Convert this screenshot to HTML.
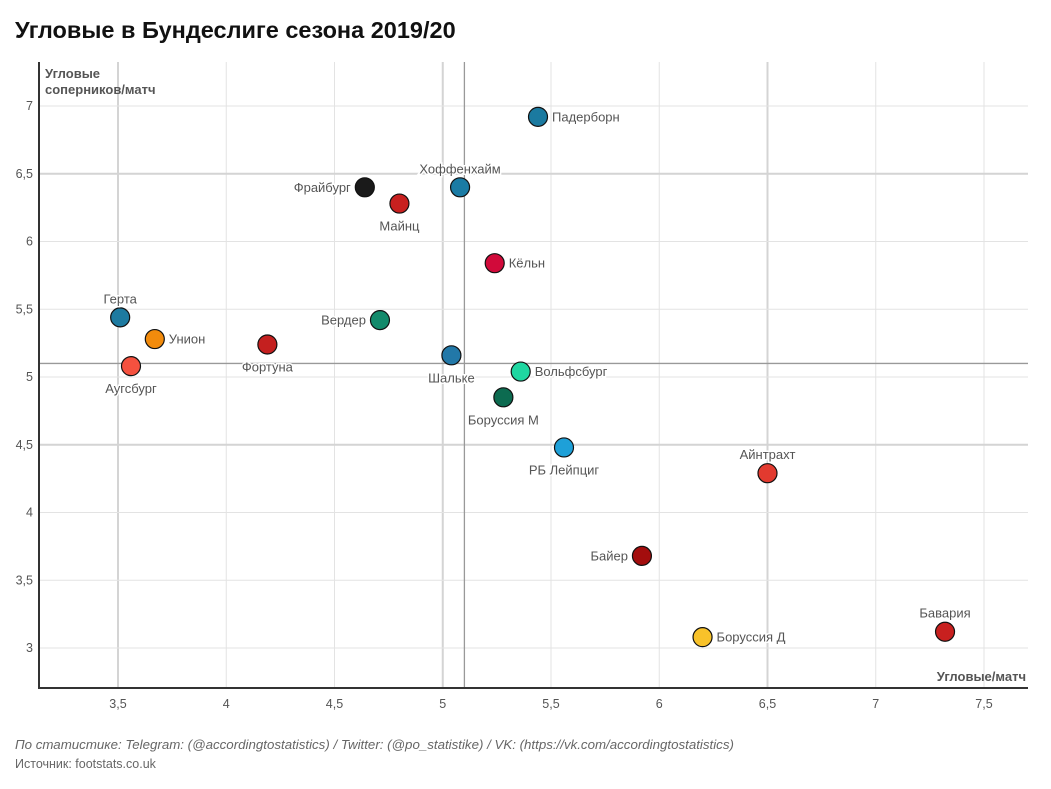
<!DOCTYPE html>
<html><head><meta charset="utf-8"><style>
body{margin:0;background:#fff;width:1051px;height:784px;overflow:hidden;font-family:"Liberation Sans",sans-serif}
svg text{font-family:"Liberation Sans",sans-serif}
</style></head><body>
<svg id="chart" width="1051" height="784" xmlns="http://www.w3.org/2000/svg">
<text x="15" y="38" font-size="23.5" font-weight="bold" fill="#111">Угловые в Бундеслиге сезона 2019/20</text>
<g id="grid"></g><g id="pts"></g>
<text x="45" y="78" font-size="13" font-weight="bold" fill="#555">Угловые</text>
<text x="45" y="94" font-size="13" font-weight="bold" fill="#555">соперников/матч</text>
<text x="1026" y="681" font-size="13" font-weight="bold" fill="#555" text-anchor="end">Угловые/матч</text>
<text x="15" y="749" font-size="13.3" font-style="italic" fill="#666">По статистике: Telegram: (@accordingtostatistics) / Twitter: (@po_statistike) / VK: (https://vk.com/accordingtostatistics)</text>
<text x="15" y="768" font-size="12.5" fill="#666">Источник: footstats.co.uk</text>
</svg>
<script>
const teams=["Падерборн","Хоффенхайм","Фрайбург","Майнц","Кёльн","Герта","Унион","Аугсбург","Фортуна","Вердер","Шальке","Вольфсбург","Боруссия М","РБ Лейпциг","Айнтрахт","Байер","Боруссия Д","Бавария"];
const cornersFor=[5.44,5.08,4.64,4.80,5.24,3.51,3.67,3.56,4.19,4.71,5.04,5.36,5.28,5.56,6.50,5.92,6.20,7.32];
const cornersAgainst=[6.92,6.40,6.40,6.28,5.84,5.44,5.28,5.08,5.24,5.42,5.16,5.04,4.85,4.48,4.29,3.68,3.08,3.12];
const colors=["#1b7aa0","#1a7ba4","#1a1a1a","#c8201f","#d10a3a","#1d7aa0","#f28b0c","#f5513f","#c4201f","#138a6b","#2278a8","#1fd6a1","#0c6b50","#1ea0d8","#e23a2f","#a30d0d","#f8c22a","#c8201f"];
const labelPos=["r","t","l","b","r","t","r","b","b","l","b","r","b","b","t","l","r","t"];
const xTicks=[3.5,4,4.5,5,5.5,6,6.5,7,7.5];
const xTickLabels=["3,5","4","4,5","5","5,5","6","6,5","7","7,5"];
const yTicks=[3,3.5,4,4.5,5,5.5,6,6.5,7];
const yTickLabels=["3","3,5","4","4,5","5","5,5","6","6,5","7"];
const meanX=5.1, meanY=5.1;
const X=v=>118+(v-3.5)*216.5, Y=v=>648-(v-3)*135.5;
const NS="http://www.w3.org/2000/svg";
function mk(t,a,p){const e=document.createElementNS(NS,t);for(const k in a)e.setAttribute(k,a[k]);p.appendChild(e);return e;}
const g=document.getElementById('grid'),P=document.getElementById('pts');
xTicks.forEach((v,i)=>{
 const thick=(v===3.5||v===5||v===6.5);
 const l=mk('line',{x1:X(v),x2:X(v),y1:62,y2:688,stroke:thick?'#d4d4d4':'#e3e3e3','stroke-width':thick?2:1},g);
 
 
 const t=mk('text',{x:X(v),y:708,'font-size':12.5,fill:'#555','text-anchor':'middle'},g);t.textContent=xTickLabels[i];
 
 
});
yTicks.forEach((v,i)=>{
 const thick=(v===6.5||v===4.5);
 const l=mk('line',{x1:38,x2:1028,y1:Y(v),y2:Y(v),stroke:thick?'#d4d4d4':'#e3e3e3','stroke-width':thick?2:1},g);
 
 
 const t=mk('text',{x:33,y:Y(v)+4,'font-size':12.5,fill:'#555','text-anchor':'end'},g);t.textContent=yTickLabels[i];
 
 
});
let m=mk('line',{x1:X(meanX),x2:X(meanX),y1:62,y2:688,stroke:'#999','stroke-width':1.3},g);


m=mk('line',{x1:38,x2:1028,y1:Y(meanY),y2:Y(meanY),stroke:'#999','stroke-width':1.3},g);


let ax=mk('line',{x1:39,x2:39,y1:62,y2:689,stroke:'#333','stroke-width':2},g);


ax=mk('line',{x1:38,x2:1028,y1:688,y2:688,stroke:'#333','stroke-width':2},g);


teams.forEach((n,i)=>{
 const cx=X(cornersFor[i]),cy=Y(cornersAgainst[i]);
 const c=mk('circle',{cx:cx,cy:cy,r:9.5,fill:colors[i],stroke:'#111','stroke-width':1.2},P);
 
 
 const p=labelPos[i];let tx=cx,ty=cy+4.5,an='middle';
 if(p==='r'){tx=cx+14;an='start';}else if(p==='l'){tx=cx-14;an='end';}
 else if(p==='t'){ty=cy-14;}else{ty=cy+27;}
 const t=mk('text',{x:tx,y:ty,'font-size':13,fill:'#555','text-anchor':an,stroke:'#fff','stroke-width':3,'paint-order':'stroke'},P);
 t.textContent=n;
 
 
});
</script>
</body></html>
